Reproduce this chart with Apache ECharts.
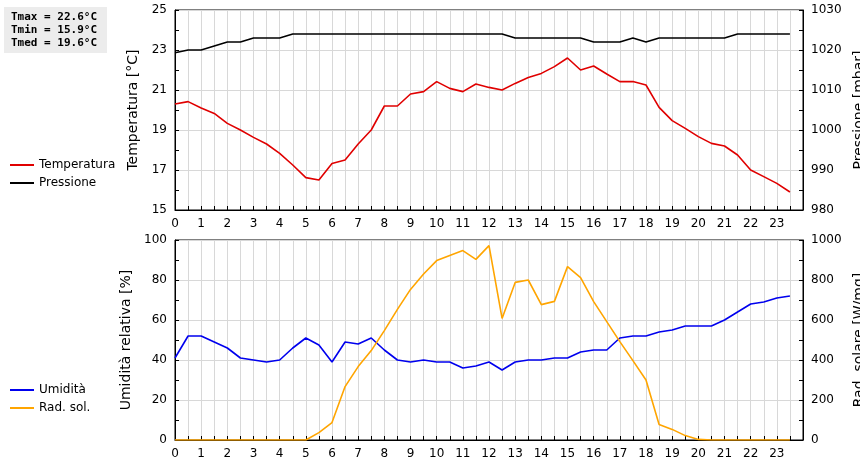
<!DOCTYPE html><html><head><meta charset="utf-8"><script src="https://cdn.jsdelivr.net/npm/echarts@6/dist/echarts.min.js"></script></head><body style="margin:0"><div id="c" style="width:860px;height:460px"></div><script>
const hours=[];for(let i=0;i<48;i++)hours.push(i/2);
const temperatura=[20.3,20.42,20.1,19.83,19.33,19.0,18.63,18.3,17.83,17.25,16.62,16.5,17.33,17.5,18.3,19.0,20.2,20.2,20.8,20.92,21.42,21.08,20.92,21.3,21.13,21.0,21.33,21.63,21.83,22.17,22.6,22.0,22.2,21.8,21.42,21.42,21.25,20.13,19.47,19.08,18.67,18.33,18.2,17.75,17.0,16.67,16.33,15.9];
const pressione=[1019.3,1020,1020,1021,1022,1022,1023,1023,1023,1024,1024,1024,1024,1024,1024,1024,1024,1024,1024,1024,1024,1024,1024,1024,1024,1024,1023,1023,1023,1023,1023,1023,1022,1022,1022,1023,1022,1023,1023,1023,1023,1023,1023,1024,1024,1024,1024,1024];
const umidita=[41,52,52,49,46,41,40,39,40,46,51,47.5,39,49,48,51,45,40,39,40,39,39,36,37,39,35,39,40,40,41,41,44,45,45,51,52,52,54,55,57,57,57,60,64,68,69,71,72];
const radSol=[0,0,0,0,0,0,0,0,0,0,0,37,87,267,367,447,547,653,753,830,897,923,947,903,972,608,788,800,677,693,867,812,692,592,492,397,300,78,53,22,3,0,0,0,0,0,0,0];
const z=(a)=>hours.map((h,i)=>[h,a[i]]);
const F='DejaVu Sans';
const gl={show:true,lineStyle:{color:'#d8d8d8'}};
function xa(gi){return {type:'value',gridIndex:gi,min:0,max:24,interval:1,
 axisLine:{lineStyle:{color:'#000'}},axisTick:{inside:true,length:4,lineStyle:{color:'#000'}},
 minorTick:{show:true,splitNumber:2,length:4,lineStyle:{color:'#000'}},
 splitLine:gl,minorSplitLine:gl,
 axisLabel:{color:'#000',fontFamily:F,fontSize:12,formatter:v=>v>=24?'':v}};}
function ya(gi,name,min,max,intv,pos){return {type:'value',gridIndex:gi,name:name,nameLocation:'middle',nameGap:pos==='left'?30:38,
 nameTextStyle:{color:'#000',fontFamily:F,fontSize:14},position:pos,min:min,max:max,interval:intv,
 axisLine:{show:true,lineStyle:{color:'#000'}},axisTick:{show:true,inside:true,length:4,lineStyle:{color:'#000'}},
 minorTick:{show:true,splitNumber:2,length:4,lineStyle:{color:'#000'}},
 splitLine:pos==='left'?gl:{show:false},
 axisLabel:{color:'#000',fontFamily:F,fontSize:12,formatter:v=>String(v)}};}
const ls=(c)=>({type:'line',symbol:'none',lineStyle:{color:c,width:1.6},itemStyle:{color:c}});
const gridBase={left:175,right:57,height:200,containLabel:false,outerBoundsMode:'none',show:true,borderColor:'#000',borderWidth:1,backgroundColor:'transparent'};
const chart=echarts.init(document.getElementById('c'));
chart.setOption({animation:false,
 grid:[Object.assign({top:10},gridBase),Object.assign({top:240},gridBase)],
 xAxis:[xa(0),xa(1)],
 yAxis:[ya(0,'Temperatura [°C]',15,25,2,'left'),ya(0,'Pressione [mbar]',980,1030,10,'right'),
        ya(1,'Umidità relativa [%]',0,100,20,'left'),ya(1,'Rad. solare [W/mq]',0,1000,200,'right')],
 legend:[{data:['Temperatura','Pressione'],orient:'vertical',left:5,top:154,itemWidth:24,itemHeight:2,icon:'rect',itemGap:6,textStyle:{fontFamily:F,fontSize:12,color:'#000'}},
         {data:['Umidità','Rad. sol.'],orient:'vertical',left:5,top:379,itemWidth:24,itemHeight:2,icon:'rect',itemGap:6,textStyle:{fontFamily:F,fontSize:12,color:'#000'}}],
 graphic:[{type:'rect',left:4,top:7,shape:{width:103,height:46},style:{fill:'#ececec'}},
  {type:'text',left:11,top:11,style:{text:'Tmax = 22.6°C\nTmin = 15.9°C\nTmed = 19.6°C',font:'bold 11px "DejaVu Sans Mono"',lineHeight:13,fill:'#000'}}],
 series:[Object.assign(ls('#e00000'),{name:'Temperatura',xAxisIndex:0,yAxisIndex:0,data:z(temperatura)}),
  Object.assign(ls('#000000'),{name:'Pressione',xAxisIndex:0,yAxisIndex:1,data:z(pressione)}),
  Object.assign(ls('#0000ee'),{name:'Umidità',xAxisIndex:1,yAxisIndex:2,data:z(umidita)}),
  Object.assign(ls('#ffa500'),{name:'Rad. sol.',xAxisIndex:1,yAxisIndex:3,data:z(radSol)})]
});
</script></body></html>
